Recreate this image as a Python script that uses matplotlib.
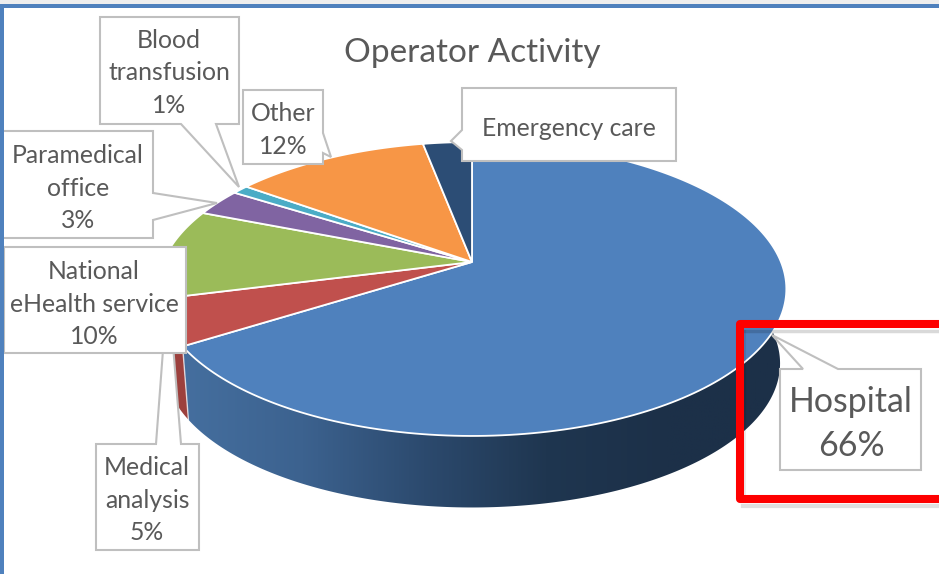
import numpy as np
import matplotlib
matplotlib.use('Agg')
import matplotlib.pyplot as plt
from matplotlib.colors import LinearSegmentedColormap
from matplotlib.patches import Polygon

plt.rcParams['font.family'] = ['Lato', 'DejaVu Sans']

categories = ['Hospital', 'Medical analysis', 'National eHealth service',
              'Paramedical office', 'Blood transfusion', 'Other', 'Emergency care']
shares = [66, 5, 10, 3, 1, 12, 3]
colours = ['#4f81bd', '#c0504d', '#9bbb59', '#8064a2', '#4bacc6', '#f79646', '#2c4d75']
side_stops = ['#456f9f', '#3c628f', '#2c4a6e', '#1f3650', '#1c3048', '#1c3048']
grey = '#595959'
box_edge = '#bfbfbf'

# pie sits in pixel coords, tilted by a simple perspective
cx, cy = 472, 262
sx, sy, k = 309, 142, 0.1837
depth, shrink = 75, 0.98


def rim(theta):
    X, Y = np.cos(theta), np.sin(theta)
    w = 1 + k * Y
    return cx + sx * X / w, cy - sy * Y / w


def rim_low(theta):
    x, y = rim(theta)
    return cx + (x - cx) * shrink, cy + depth + (y - cy) * shrink


def arc(a, b, fn=rim):
    t = np.radians(np.linspace(a, b, 200))
    return np.column_stack(fn(t))


def callout(ax, box, tail, z):
    # white box, tail is spliced into the outline
    x0, x1, y0, y1 = box
    pts = [(x0, y0), (x1, y0), (x1, y1), (x0, y1)]
    side, a, tip, b = tail if tail else (None, None, None, None)
    if side == 'top':
        pts = [(x0, y0), (a, y0), tip, (b, y0), (x1, y0), (x1, y1), (x0, y1)]
    elif side == 'right':
        pts = [(x0, y0), (x1, y0), (x1, a), tip, (x1, b), (x1, y1), (x0, y1)]
    elif side == 'bottom':
        pts = [(x0, y0), (x1, y0), (x1, y1), (b, y1), tip, (a, y1), (x0, y1)]
    elif side == 'left':
        pts = [(x0, y0), (x1, y0), (x1, y1), (x0, y1), (x0, b), tip, (x0, a)]
    ax.add_patch(Polygon(pts, closed=True, fc='white', ec=box_edge, lw=1.5, zorder=z))


fig = plt.figure(figsize=(9.39, 5.74), dpi=100)
ax = fig.add_axes([0, 0, 1, 1])

# wedge angles, clockwise from the top
edges = 90 - np.cumsum([0] + shares) * 3.6

# side wall of the pie
cmap = LinearSegmentedColormap.from_list('side', side_stops)
wall = np.vstack([arc(12, edges[1]), arc(edges[1], 12, rim_low)])
patch = Polygon(wall, closed=True, fc='none', ec='none')
ax.add_patch(patch)
img = ax.imshow(np.linspace(0, 1, 256).reshape(1, -1), cmap=cmap, aspect='auto',
                extent=(180, 790, 520, 280), zorder=1)
img.set_clip_path(patch)
red_wall = np.vstack([arc(edges[1], edges[2]), arc(edges[2], edges[1], rim_low)])
ax.fill(red_wall[:, 0], red_wall[:, 1], color='#9c403d', lw=0, zorder=1)
low = np.array(rim_low(np.radians(edges[1])))
top = np.array(rim(np.radians(edges[1])))
ax.plot([top[0], low[0]], [top[1], low[1]], color='white', lw=1, alpha=0.7, zorder=2)

# top faces
for a, b, c in zip(edges[:-1], edges[1:], colours):
    pts = np.vstack([[cx, cy], arc(a, b)])
    ax.add_patch(Polygon(pts, closed=True, fc=c, ec='white', lw=1.3, zorder=3))

ax.text(472, 53, 'Operator Activity', ha='center', va='center', fontsize=24, color=grey, zorder=6)

# labels
callout(ax, (96, 199, 444, 550), ('top', 156, (168, 283), 181), 4)
callout(ax, (100, 239, 17, 124), ('bottom', 181, (239, 187), 216), 5)
callout(ax, (243, 323, 90, 164), ('right', 133, (331, 157), 153), 5)
callout(ax, (-5, 153, 131, 238), ('right', 193, (217, 203), 220), 5)
callout(ax, (4, 186, 247, 353), None, 5)
callout(ax, (462, 676, 88, 161), ('left', 130, (451, 141), 150), 5)
callout(ax, (780, 921, 369, 470), ('top', 803, (772, 335), 838), 5)

small = 17.8
pitch = 1.48
ax.text(169, 73, 'Blood\ntransfusion\n%d%%' % shares[4], fontsize=small, color=grey, ha='center',
        va='center', linespacing=pitch, zorder=6)
ax.text(283, 130, 'Other\n%d%%' % shares[5], fontsize=small, color=grey, ha='center',
        va='center', linespacing=pitch, zorder=6)
ax.text(78, 188, 'Paramedical\noffice\n%d%%' % shares[3], fontsize=small, color=grey, ha='center',
        va='center', linespacing=pitch, zorder=6)
ax.text(94, 304, 'National\neHealth service\n%d%%' % shares[2], fontsize=small, color=grey,
        ha='center', va='center', linespacing=pitch, zorder=6)
ax.text(147, 500, 'Medical\nanalysis\n%d%%' % shares[1], fontsize=small, color=grey, ha='center',
        va='center', linespacing=pitch, zorder=6)
ax.text(569, 128, categories[6], fontsize=small, color=grey, ha='center', va='center', zorder=6)
ax.text(851, 424, 'Hospital\n%d%%' % shares[0], fontsize=24.4, color=grey, ha='center',
        va='center', linespacing=1.43, zorder=6)

# red highlight box with soft shadow
rx = [945, 740, 740, 945]
ry = [324, 324, 499, 499]
ax.plot([745, 945], [331, 331], color='black', lw=2.5, alpha=0.15, zorder=7)
ax.plot([745, 745], [331, 495], color='black', lw=1.5, alpha=0.08, zorder=7)
ax.plot([743, 945], [506, 506], color='black', lw=3, alpha=0.12, zorder=7)
ax.plot(rx, ry, color='#fe0000', lw=5.8, solid_joinstyle='round', zorder=8)

# slide frame
ax.axhspan(0, 4, color='#eeeeee', lw=0, zorder=9)
ax.axhspan(4, 8, color='#4f81bd', lw=0, zorder=9)
ax.axvspan(0, 4, ymin=0, ymax=1 - 4 / 574, color='#4f81bd', lw=0, zorder=9)

ax.set_xlim(0, 939)
ax.set_ylim(574, 0)
ax.axis('off')

fig.savefig('out.png', dpi=100)
